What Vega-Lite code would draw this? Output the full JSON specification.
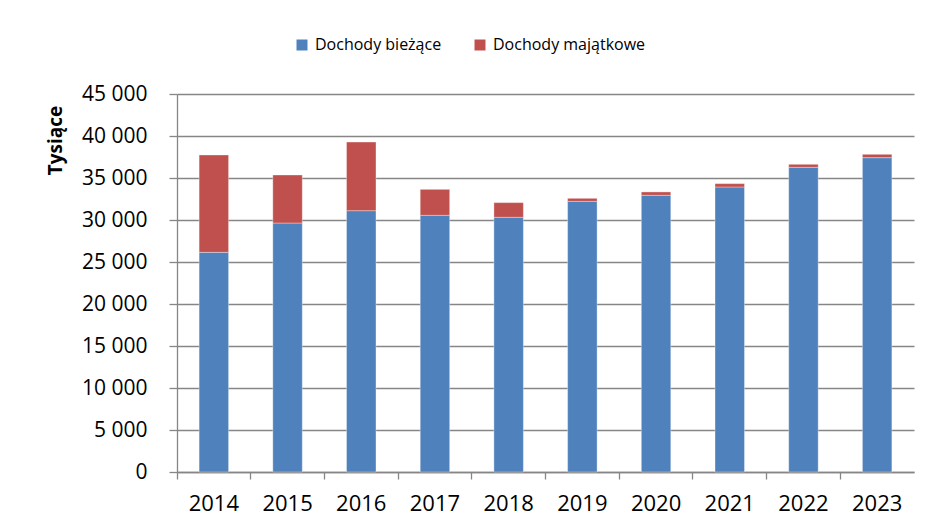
{
  "$schema": "https://vega.github.io/schema/vega-lite/v6.json",
  "width": 737,
  "height": 378,
  "autosize": {"type": "none"},
  "padding": {"left": 177, "top": 94, "right": 15, "bottom": 59},
  "background": "white",
  "data": {
    "values": [
      {"rok": "2014", "rodzaj": "Dochody bieżące", "wartosc": 26150},
      {"rok": "2014", "rodzaj": "Dochody majątkowe", "wartosc": 11590},
      {"rok": "2015", "rodzaj": "Dochody bieżące", "wartosc": 29640},
      {"rok": "2015", "rodzaj": "Dochody majątkowe", "wartosc": 5720},
      {"rok": "2016", "rodzaj": "Dochody bieżące", "wartosc": 31110},
      {"rok": "2016", "rodzaj": "Dochody majątkowe", "wartosc": 8170},
      {"rok": "2017", "rodzaj": "Dochody bieżące", "wartosc": 30560},
      {"rok": "2017", "rodzaj": "Dochody majątkowe", "wartosc": 3090},
      {"rok": "2018", "rodzaj": "Dochody bieżące", "wartosc": 30320},
      {"rok": "2018", "rodzaj": "Dochody majątkowe", "wartosc": 1750},
      {"rok": "2019", "rodzaj": "Dochody bieżące", "wartosc": 32220},
      {"rok": "2019", "rodzaj": "Dochody majątkowe", "wartosc": 360},
      {"rok": "2020", "rodzaj": "Dochody bieżące", "wartosc": 32940},
      {"rok": "2020", "rodzaj": "Dochody majątkowe", "wartosc": 400},
      {"rok": "2021", "rodzaj": "Dochody bieżące", "wartosc": 33930},
      {"rok": "2021", "rodzaj": "Dochody majątkowe", "wartosc": 400},
      {"rok": "2022", "rodzaj": "Dochody bieżące", "wartosc": 36270},
      {"rok": "2022", "rodzaj": "Dochody majątkowe", "wartosc": 360},
      {"rok": "2023", "rodzaj": "Dochody bieżące", "wartosc": 37420},
      {"rok": "2023", "rodzaj": "Dochody majątkowe", "wartosc": 400}
    ]
  },
  "mark": {"type": "bar", "width": {"band": 0.4}, "stroke": "white", "strokeOpacity": 0.35, "strokeWidth": 1},
  "encoding": {
    "x": {
      "field": "rok",
      "type": "nominal",
      "scale": {"paddingInner": 0, "paddingOuter": 0},
      "axis": {
        "title": null,
        "labelAngle": 0,
        "labelFont": "Open Sans",
        "labelFontSize": 22,
        "labelColor": "black",
        "labelPadding": 14,
        "labelBaseline": "top",
        "tickSize": 7,
        "bandPosition": 0,
        "grid": false
      }
    },
    "y": {
      "field": "wartosc",
      "type": "quantitative",
      "stack": "zero",
      "scale": {"domain": [0, 45000], "nice": false},
      "axis": {
        "title": "Tysiące",
        "titleFont": "Open Sans",
        "titleFontSize": 19,
        "titleFontWeight": "bold",
        "titleColor": "black",
        "titleAngle": 270,
        "titleAlign": "center",
        "titleBaseline": "middle",
        "titleX": -122,
        "titleY": 46,
        "values": [0, 5000, 10000, 15000, 20000, 25000, 30000, 35000, 40000, 45000],
        "labelExpr": "replace(format(datum.value, ','), ',', ' ')",
        "labelFont": "Open Sans",
        "labelFontSize": 21,
        "labelColor": "black",
        "labelPadding": 22,
        "tickSize": 8,
        "grid": true
      }
    },
    "color": {
      "field": "rodzaj",
      "type": "nominal",
      "scale": {
        "domain": ["Dochody bieżące", "Dochody majątkowe"],
        "range": ["#4F81BD", "#C0504D"]
      },
      "legend": {
        "title": null,
        "orient": "none",
        "direction": "horizontal",
        "legendX": 117,
        "legendY": -57,
        "padding": 0,
        "symbolType": "square",
        "symbolSize": 121,
        "symbolStrokeWidth": 0,
        "symbolOpacity": 1,
        "labelFont": "Open Sans",
        "labelFontSize": 16,
        "labelColor": "black",
        "labelOffset": 5,
        "columnPadding": 30
      }
    },
    "order": {"field": "rodzaj", "sort": "ascending"}
  },
  "config": {
    "view": {"stroke": null},
    "axis": {
      "domainColor": "#868686",
      "domainWidth": 1.3,
      "tickColor": "#868686",
      "tickWidth": 1.3,
      "gridColor": "#868686",
      "gridWidth": 1.3,
      "gridOpacity": 1
    }
  }
}
